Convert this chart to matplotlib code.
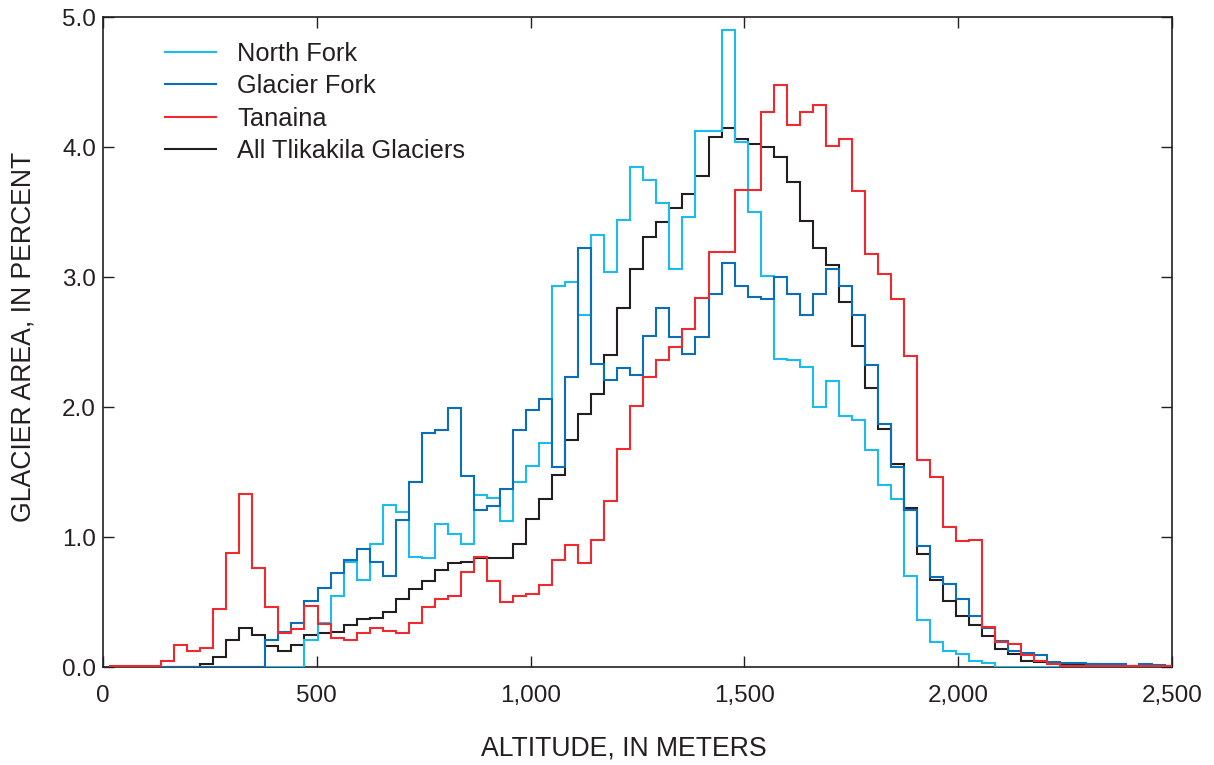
import numpy as np
import matplotlib
matplotlib.use("Agg")
import matplotlib.pyplot as plt
from matplotlib.lines import Line2D

plt.rcParams['font.family'] = ['Liberation Sans', 'DejaVu Sans']

# 100-ft (30.48 m) altitude bins
BIN_START_M = 14.0
BIN_WIDTH_M = 30.48

north_fork = [0, 0, 0, 0, 0, 0, 0, 0, 0, 0, 0, 0, 0, 0, 0,
              0.21, 0.34, 0.55, 0.81, 0.67, 0.95, 1.25, 1.19, 0.85, 0.84,
              1.10, 1.02, 0.95, 1.32, 1.30, 1.12, 1.42, 1.55, 1.72, 2.93,
              2.96, 2.71, 3.32, 3.04, 3.44, 3.85, 3.75, 3.57, 3.06, 3.46,
              4.12, 4.12, 4.90, 4.04, 3.50, 3.01, 2.37, 2.36, 2.31, 2.00,
              2.20, 1.93, 1.90, 1.67, 1.40, 1.29, 0.70, 0.36, 0.19, 0.12,
              0.10, 0.05, 0.03, 0, 0, 0, 0, 0, 0, 0, 0, 0, 0, 0, 0, 0, 0]

glacier_fork = [0, 0, 0, 0, 0, 0, 0, 0, 0, 0, 0, 0,
                0.21, 0.27, 0.34, 0.51, 0.61, 0.72, 0.82, 0.91, 0.81, 0.70,
                1.13, 1.42, 1.80, 1.82, 1.99, 1.47, 1.21, 1.24, 1.37, 1.82,
                1.98, 2.06, 1.54, 2.23, 3.22, 2.33, 2.21, 2.30, 2.25, 2.55,
                2.76, 2.54, 2.41, 2.54, 2.87, 3.11, 2.93, 2.85, 2.83, 3.00,
                2.87, 2.71, 2.87, 3.06, 2.93, 2.71, 2.32, 1.87, 1.54, 1.21,
                0.93, 0.69, 0.64, 0.52, 0.39, 0.30, 0.20, 0.12, 0.11, 0.09,
                0.04, 0.03, 0.03, 0.02, 0.02, 0.02, 0.01, 0.02, 0.015, 0.01]

tanaina = [0.01, 0.01, 0.01, 0.01,
           0.05, 0.17, 0.12, 0.15, 0.45, 0.88, 1.33, 0.76, 0.46, 0.26,
           0.29, 0.47, 0.33, 0.22, 0.21, 0.26, 0.30, 0.28, 0.26, 0.34,
           0.46, 0.52, 0.55, 0.73, 0.85, 0.66, 0.50, 0.55, 0.56, 0.63,
           0.82, 0.94, 0.80, 0.98, 1.28, 1.68, 2.01, 2.23, 2.36, 2.46,
           2.60, 2.84, 3.19, 3.19, 3.67, 3.67, 4.27, 4.48, 4.17, 4.27,
           4.32, 4.01, 4.06, 3.66, 3.18, 3.02, 2.83, 2.39, 1.59, 1.46,
           1.08, 0.97, 0.98, 0.31, 0.19, 0.18, 0.09, 0.05, 0.02,
           0.01, 0.01, 0.01, 0.01, 0.01, 0.01, 0.01, 0.01, 0.01]

all_tlikakila = [0, 0, 0, 0, 0, 0, 0,
                 0.02, 0.08, 0.21, 0.30, 0.25, 0.16, 0.12, 0.17, 0.25, 0.26,
                 0.27, 0.32, 0.37, 0.38, 0.42, 0.52, 0.60, 0.66, 0.75, 0.80,
                 0.81, 0.84, 0.84, 0.84, 0.95, 1.14, 1.29, 1.48, 1.75, 1.95,
                 2.10, 2.40, 2.76, 3.06, 3.31, 3.42, 3.53, 3.64, 3.78, 4.08,
                 4.15, 4.06, 4.02, 4.00, 3.92, 3.73, 3.43, 3.22, 3.09, 2.81,
                 2.47, 2.15, 1.83, 1.56, 1.22, 0.87, 0.67, 0.51, 0.39, 0.32,
                 0.24, 0.14, 0.10, 0.05, 0.04, 0.03, 0.02, 0.02, 0.02, 0.015,
                 0.01, 0.01, 0.01, 0.01, 0.01]

series_labels = ["North Fork", "Glacier Fork", "Tanaina", "All Tlikakila Glaciers"]
series_values = [north_fork, glacier_fork, tanaina, all_tlikakila]
series_colors = ["#19BCEB", "#0A6FB8", "#EE2A2F", "#231F20"]
series_z = [3, 4, 5, 2]

x_ticks = [0, 500, 1000, 1500, 2000, 2500]
x_ticklabels = ["0", "500", "1,000", "1,500", "2,000", "2,500"]
y_ticks = [0, 1, 2, 3, 4, 5]
y_ticklabels = ["0.0", "1.0", "2.0", "3.0", "4.0", "5.0"]

fig = plt.figure(figsize=(12.14, 7.65), dpi=100)
ax = fig.add_axes([103 / 1214, 1 - 667 / 765, (1172 - 103) / 1214, (667 - 17) / 765])

n = len(north_fork)
edges = BIN_START_M + BIN_WIDTH_M * np.arange(n + 1)

for lab, vals, col, z in zip(series_labels, series_values, series_colors, series_z):
    ax.stairs(vals, edges, color=col, linewidth=1.5, label=lab, zorder=z, baseline=None)

ax.set_xlim(0, 2500)
ax.set_ylim(0, 5.0)
ax.set_xticks(x_ticks)
ax.set_xticklabels(x_ticklabels)
ax.set_yticks(y_ticks)
ax.set_yticklabels(y_ticklabels)
ax.tick_params(direction='in', top=True, right=True, length=8, width=1.0,
               labelsize=17.5, colors='#231F20')
ax.tick_params(axis='y', pad=5)
ax.tick_params(axis='x', pad=13)
for s in ax.spines.values():
    s.set_linewidth(1.2)
    s.set_color('#231F20')

ax.set_xlabel("ALTITUDE, IN METERS", fontsize=19.2, color='#231F20')
ax.xaxis.set_label_coords((624 - 103) / 1069, -0.106)
ax.set_ylabel("GLACIER AREA, IN PERCENT", fontsize=19.2, color='#231F20')
ax.yaxis.set_label_coords(-(103 - 37) / 1069, (667 - 337) / 650)

proxies = [Line2D([], [], color=c, linewidth=1.5) for c in series_colors]
leg = ax.legend(proxies, series_labels, loc='upper left',
                bbox_to_anchor=((165 - 103) / 1069, (667 - 42) / 650),
                frameon=False, fontsize=18.3, handlelength=2.0, handletextpad=0.85,
                labelspacing=0.33, borderpad=0, borderaxespad=0)
for t in leg.get_texts():
    t.set_color('#231F20')

fig.savefig("out.png", dpi=100)
